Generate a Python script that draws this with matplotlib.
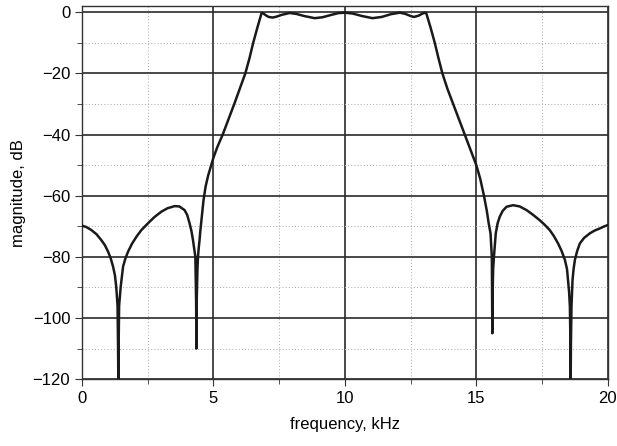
import matplotlib
matplotlib.use("Agg")
import matplotlib.pyplot as plt
from matplotlib.ticker import MultipleLocator

plt.rcParams['font.family'] = ['Liberation Sans', 'DejaVu Sans']

# Frequency (kHz) and magnitude (dB)
freq_khz = [
    0.00, 0.15, 0.35, 0.55, 0.73, 0.87, 0.99, 1.09, 1.18, 1.25, 1.30, 1.35, 1.37, 1.38,
    1.39, 1.41, 1.47, 1.56, 1.65, 1.75, 1.90, 2.07, 2.25, 2.51, 2.75, 3.02, 3.25,
    3.52, 3.70, 3.90, 4.00, 4.09, 4.16, 4.22, 4.27, 4.31, 4.34, 4.35, 4.36, 4.39,
    4.41, 4.44, 4.47, 4.50, 4.56, 4.62, 4.70, 4.80, 4.93, 5.00, 5.15, 5.35, 5.57, 5.79,
    6.00, 6.21, 6.37, 6.51, 6.67, 6.83, 6.90,
    7.00, 7.10, 7.25, 7.40, 7.60, 7.90, 8.15, 8.45, 8.85, 9.15, 9.45, 9.75, 10.00,
    10.30, 10.65, 11.05, 11.40, 11.75, 12.09, 12.30, 12.50, 12.62, 12.80, 12.95, 13.06,
    13.10, 13.26, 13.42, 13.56, 13.71, 13.90, 14.12, 14.34, 14.56, 14.78, 15.00, 15.15,
    15.29, 15.40, 15.47, 15.54, 15.59, 15.60, 15.61, 15.62, 15.64, 15.67, 15.74, 15.81,
    15.89, 16.00, 16.15, 16.40, 16.65, 16.91, 17.15, 17.41, 17.60, 17.79, 17.95, 18.11,
    18.25, 18.37, 18.45, 18.49, 18.53, 18.56, 18.58, 18.59, 18.60, 18.62, 18.66, 18.70,
    18.75, 18.84, 18.94, 19.10, 19.32, 19.50, 19.70, 19.85, 20.00,
]
mag_db = [
    -69.8, -70.2, -71.2, -72.6, -74.5, -76.2, -78.3, -80.5, -83.2, -86.0, -89.8, -96.0, -110.0, -120.0,
    -110.0, -96.0, -89.8, -83.2, -80.5, -78.3, -75.7, -73.4, -71.3, -69.0, -67.0, -65.2, -64.1,
    -63.4, -63.5, -64.7, -66.3, -69.0, -71.5, -74.5, -77.5, -80.0, -95.0, -110.0, -95.0, -84.0,
    -80.0, -77.0, -74.5, -71.5, -66.5, -61.5, -57.0, -53.3, -49.6, -47.5, -44.0, -40.0, -35.0, -30.0,
    -25.0, -20.0, -15.0, -10.0, -5.0, -0.2, -0.4,
    -1.0, -1.5, -1.7, -1.4, -0.8, -0.2, -0.5, -1.2, -1.9, -1.6, -0.9, -0.25, -0.1,
    -0.4, -1.2, -1.9, -1.5, -0.6, -0.1, -0.5, -1.2, -1.5, -1.1, -0.4, -0.1,
    -0.4, -5.0, -10.0, -15.0, -20.0, -25.0, -30.0, -35.0, -40.0, -45.0, -50.0, -54.5,
    -60.0, -65.0, -69.0, -72.3, -80.0, -92.0, -105.0, -92.0, -84.0, -80.0, -72.3, -69.0,
    -66.9, -65.0, -63.6, -63.1, -63.5, -64.7, -66.2, -68.0, -69.5, -71.2, -73.2, -75.6,
    -78.2, -81.0, -84.0, -87.6, -91.5, -96.3, -108.0, -120.0, -108.0, -96.3, -87.6, -84.0,
    -81.0, -78.0, -75.6, -73.8, -72.3, -71.4, -70.7, -70.1, -69.6,
]

x_ticks = [0, 5, 10, 15, 20]
y_ticks = [-120, -100, -80, -60, -40, -20, 0]
y_tick_labels = ['\u2212120', '\u2212100', '\u221280', '\u221260', '\u221240', '\u221220', '0']

fig = plt.figure(figsize=(6.17, 4.46), dpi=100)
ax = fig.add_axes([0.133, 0.150, 0.852, 0.836])

ax.plot(freq_khz, mag_db, color='#1a1a1a', lw=1.8, solid_joinstyle='round', zorder=3)

ax.set_xlim(0, 20)
ax.set_ylim(-120, 2)
ax.set_xticks(x_ticks)
ax.set_yticks(y_ticks)
ax.set_yticklabels(y_tick_labels)
ax.xaxis.set_minor_locator(MultipleLocator(2.5))
ax.yaxis.set_minor_locator(MultipleLocator(10))

ax.grid(which='major', color='#2a2a2a', lw=1.2, ls='-', zorder=1)
ax.grid(which='minor', color='#b0b0b0', lw=0.75, ls=(0, (1, 2)), zorder=1)
ax.set_axisbelow(True)

for s in ax.spines.values():
    s.set_color('#333333')
    s.set_linewidth(1.0)

ax.tick_params(which='both', direction='out', labelsize=12, color='#333333', pad=3.5)
ax.tick_params(which='major', length=5)
ax.tick_params(which='minor', length=3.5)

ax.set_xlabel('frequency, kHz', fontsize=12, labelpad=8)
ax.set_ylabel('magnitude, dB', fontsize=12, labelpad=5)

fig.savefig('out.png', dpi=100)
